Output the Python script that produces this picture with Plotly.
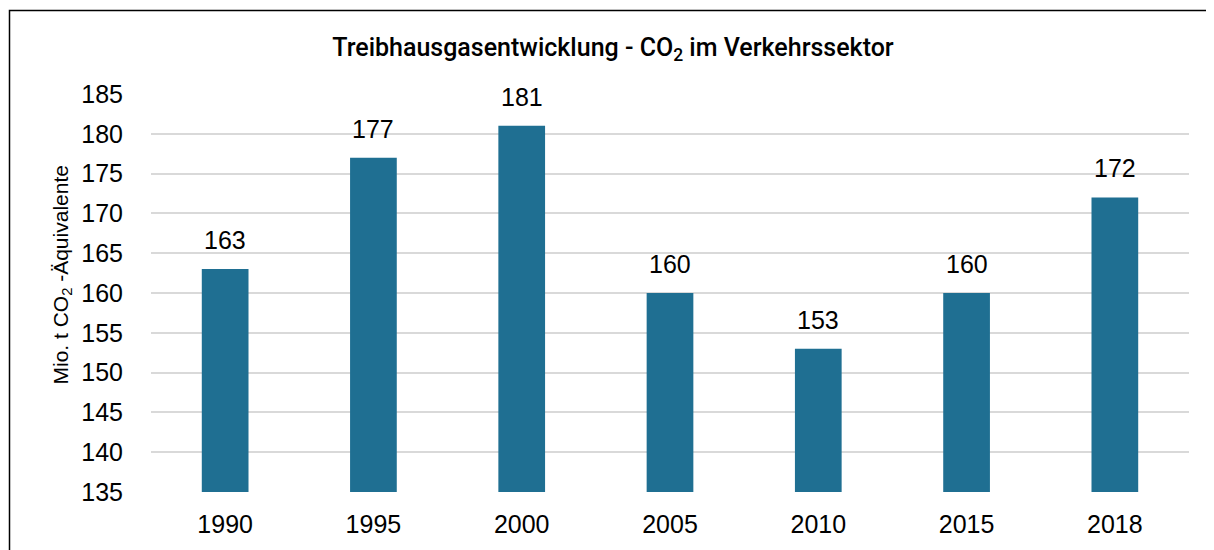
import plotly.graph_objects as go

years = ["1990", "1995", "2000", "2005", "2010", "2015", "2018"]
values = [163, 177, 181, 160, 153, 160, 172]
y_ticks = [135, 140, 145, 150, 155, 160, 165, 170, 175, 180, 185]

# page body has an 8px default margin; size the figure to fill the rest
OFF = 8
W, H = 1214 - OFF, 550 - OFF
L, R, T, B = 151 - OFF, 25, 94 - OFF, 58
pw, ph = W - L - R, H - T - B


def px_x(x):
    return (x - OFF - L) / pw


def px_y(y):
    return (H - B - (y - OFF)) / ph


AX_FONT = "Liberation Sans, Arial, sans-serif"

fig = go.Figure(go.Bar(
    x=years, y=values, width=0.315,
    marker=dict(color="#1f6f92", line=dict(width=0)),
    hoverinfo="x+y",
))

for i, v in enumerate(values):
    fig.add_annotation(x=i, y=v, text=str(v), showarrow=False,
                       xanchor="center", yanchor="bottom", yshift=13,
                       font=dict(family=AX_FONT, size=25, color="#000000"))

# y-axis title
fig.add_annotation(xref="paper", yref="paper", x=px_x(61.5), y=px_y(275),
                   text="Mio. t CO<sub>2</sub> -Äquivalente", textangle=-90,
                   showarrow=False, xanchor="center", yanchor="middle",
                   font=dict(family=AX_FONT, size=21, color="#000000"))

fig.update_layout(
    width=W, height=H,
    margin=dict(l=L, r=R, t=T, b=B, pad=0),
    paper_bgcolor="white", plot_bgcolor="white",
    showlegend=False,
    title=dict(text="Treibhausgasentwicklung - CO<sub>2</sub> im Verkehrssektor",
               x=px_x(613), xanchor="center", xref="paper",
               y=1 - (47 - OFF) / H, yanchor="middle",
               font=dict(family="Roboto, Liberation Sans, sans-serif", size=25,
                         weight=500, color="#000000")),
    xaxis=dict(type="category", categoryorder="array", categoryarray=years,
               range=[-0.5, len(years) - 0.5], autorange=False,
               showgrid=False, showline=False, ticks="",
               tickfont=dict(family=AX_FONT, size=25, color="#000000"),
               ticklabelstandoff=15),
    yaxis=dict(range=[135, 185], tickvals=y_ticks, showgrid=True,
               gridcolor="#d9d9d9", gridwidth=1.5,
               zeroline=False, showline=False, ticks="",
               tickfont=dict(family=AX_FONT, size=25, color="#000000"),
               ticklabelstandoff=27),
    shapes=[dict(type="rect", xref="paper", yref="paper",
                 x0=px_x(9.5), x1=px_x(1222), y0=px_y(560), y1=px_y(10.5),
                 line=dict(color="#000000", width=1.5),
                 fillcolor="rgba(0,0,0,0)", layer="above")],
)

fig.write_html("out.html")
